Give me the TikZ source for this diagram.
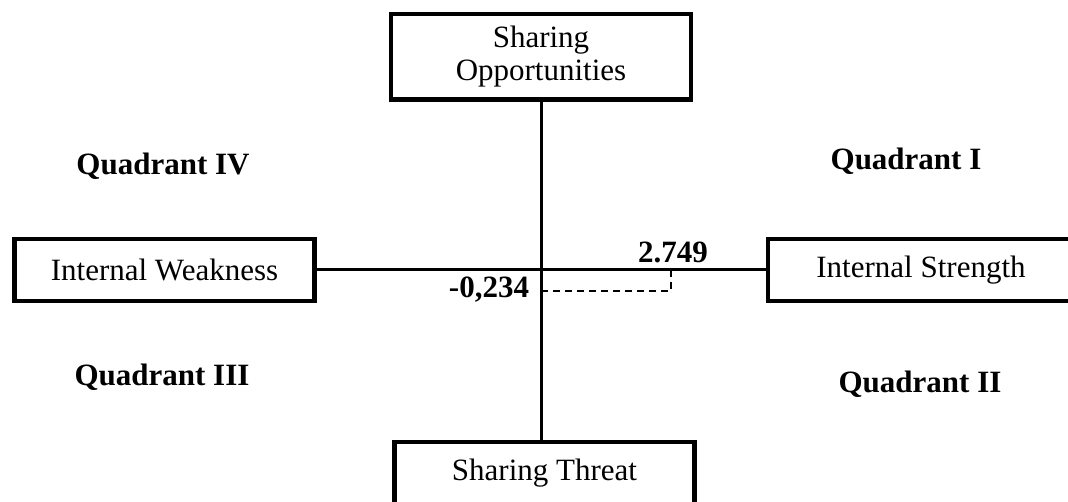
\documentclass[tikz,border=0pt]{standalone}
\usepackage{fontspec}
\setmainfont{Liberation Serif}
\begin{document}
\begin{tikzpicture}[x=1pt,y=1pt,yscale=-1,xscale=1,
        box/.style={draw, line width=4.5pt, minimum width=300pt, minimum height=62pt, inner sep=0pt, align=center, font=\fontsize{31}{33}\selectfont},
        quad/.style={anchor=base, font=\fontsize{31}{32}\selectfont\bfseries},
        val/.style={anchor=base, font=\fontsize{31}{32}\selectfont\bfseries},
        axis/.style={line width=3pt},
        guide/.style={line width=1.4pt, dash pattern=on 7pt off 5pt}]
        \useasboundingbox (0,0) rectangle (1068,502);

        %Boxes
        \node[box] (weak) at (164.5,270) {Internal Weakness};
        \node[box, minimum width=306pt] (strength) at (921,270) {Internal Strength};
        \node[box, minimum height=85.5pt] (opp) at (541,57) {\rule{0pt}{14pt}Sharing\\Opportunities};
        \node[box] (threat) at (544.5,473) {Sharing Threat};

        %Axes
        \draw[axis] (opp.south) -- (threat.north -| opp.south);
        \draw[axis] (weak.east) -- (strength.west);

        %Position point
        \coordinate (o) at (541,270);
        \coordinate (dpt) at (671,291);
        \draw[guide] (o |- dpt) -- (dpt) -- (dpt |- o);
        \node[val] (sx) at (673,263) {2.749};
        \node[val] (sy) at (489,298) {-0,234};

        %Quadrant labels
        \node[quad] (q4) at (163,175) {Quadrant IV};
        \node[quad] (q1) at (906,170) {Quadrant I};
        \node[quad] (q3) at (162,385) {Quadrant III};
        \node[quad] (q2) at (920,392) {Quadrant II};
\end{tikzpicture}
\end{document}
